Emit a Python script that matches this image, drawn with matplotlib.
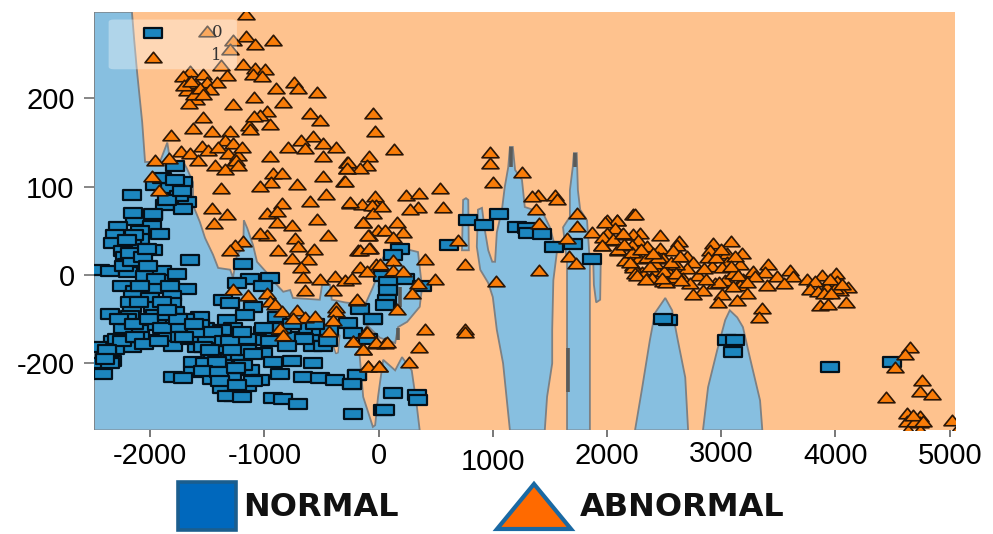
import matplotlib
matplotlib.use("Agg")
import matplotlib.pyplot as plt
from matplotlib.patches import Rectangle, Polygon, FancyBboxPatch
from matplotlib.path import Path
from matplotlib.transforms import ScaledTranslation

# ---- data ----
x_ticks = [-2000, -1000, 0, 1000, 2000, 3000, 4000, 5000]
x_tick_labels = ['-2000', '-1000', '0', '1000', '2000', '3000', '4000', '5000']
y_ticks = [-100, 0, 100, 200]
y_tick_labels = ['-200', '0', '100', '200']   # the reference labels its fourth evenly spaced tick -200

region_main = [(-2492,298),(-2160,298),(-2140,266),(-2115,230),(-2070,173),(-2045,128),(-1915,128),(-1850,150),
 (-1825,128),(-1710,128),(-1680,121),(-1625,105),(-1625,79),(-1565,60),(-1520,42),(-1450,23),(-1405,8),(-1300,6),
 (-1275,-3),(-1240,23),(-1185,31),(-1180,62),(-1150,53),(-1100,34),(-1065,15),(-975,2),(-950,-3),(-835,-19),
 (-775,-17),(-750,-26),(-515,-28),(-495,-11),(-425,-11),(-410,-28),(-295,-31),(-120,-34),(-50,-14),(-15,-2),
 (40,20),(160,32),(345,26),(380,-14),(360,-36),(250,-53),(170,-59),(145,-77),(10,-71),(-100,-57),(-180,-74),
 (-165,-93),(-135,-138),(-50,-172),(-30,-170),(-5,-138),(40,-96),(145,-108),(205,-93),(290,-108),(335,-149),
 (360,-176),(-2492,-176)]
region_spire = [(1150,-176),(1090,-100),(1035,-62),(1000,-25),(960,-9),(890,6),(860,32),(870,74),(905,76),(930,51),
 (960,28),(995,15),(1020,15),(1035,48),(1080,74),(1105,100),(1135,122),(1150,145),(1175,145),(1195,119),(1255,108),
 (1280,77),(1440,70),(1500,54),(1560,25),(1530,-6),(1520,-62),(1520,-100),(1475,-138),(1455,-176)]
region_strip = [(1650,-176),(1650,14),(1615,54),(1675,66),(1675,96),(1700,122),(1710,138),(1735,138),(1745,96),
 (1765,74),(1825,62),(1850,14),(1850,-176)]
region_side = [(1880,14),(1945,15),(1940,-28),(1905,-31),(1885,-11)]
region_thin = [(730,28),(740,85),(765,87),(785,85),(790,28)]
region_d = [(2245,-176),(2305,-130),(2375,-74),(2420,-43),(2510,-26),(2570,-40),(2620,-74),(2685,-116),(2710,-176)]
region_e = [(2840,-176),(2885,-127),(2965,-85),(3035,-51),(3075,-40),(3140,-48),(3190,-59),(3250,-93),(3340,-142),(3360,-176)]
notch_abnormal = [(-425,-68),(-340,-68),(-355,-88),(-375,-89)]
dark_bars = [(1660,-133,-83),(170,-74,-60),(187,-36,-14),(1160,122,145),(1722,122,138)]

normal_points = [(-2133,62),(-1972,68),(-2279,54),(-1987,56),(-2089,50),(-1914,46),(-2308,45),(-2089,41),(-2323,36),
 (-2162,36),(-1972,28),(-2235,27),(-2220,20),(-1651,17),(-2206,12),(-1184,13),(-2439,6),(-2352,5),(-2191,3),(-2045,-1),
 (-1899,5),(-1870,-6),(-1768,1),(-1126,-4),(-951,-3),(-1243,-9),(-2250,-12),(-2133,-18),(-1949,-15),(-1680,-16),
 (-1009,-13),(-2147,-24),(-1812,-24),(-2002,-26),(-1359,-28),(-1301,-32),(-1097,-36),(-1812,-32),(-1972,-36),(-2162,-36),
 (-2352,-44),(-2177,-46),(-1958,-45),(-1783,-42),(-1170,-45),(-1564,-47),(-1330,-51),(-892,-47),(-1841,-54),(-1695,-50),
 (-163,-38),(-46,-50),(-265,-54),(-951,-62),(-2220,-69),(-2089,-62),(-1856,-69),(-1680,-63),(-1520,-60),(-1272,-60),
 (-1374,-62),(-1009,-64),(-746,-70),(-586,-70),(-221,-66),(-2323,-75),(-2162,-81),(-2002,-74),(-1797,-80),(-1593,-81),
 (-1418,-74),(-1243,-79),(-1067,-74),(-571,-80),(-483,-80),(-2439,-81),(-2308,-84),(-1447,-91),(-1301,-91),(-1009,-88),
 (-1622,-98),(-2337,-97),(-2425,-100),(-921,-98),(-761,-97),(-571,-100),(-1126,-107),(-1316,-106),(-1622,-110),(-2410,-112),
 (-1797,-116),(-1462,-118),(-1710,-117),(-863,-112),(-659,-116),(-513,-117),(-381,-119),(-192,-113),(-235,-123),(-1038,-119),
 (-1374,-128),(-1155,-126),(-1272,-137),(-921,-139),(-834,-140),(-703,-146),(-221,-157),(42,-153),
 (-1564,-57),(-1651,-72),(-1505,-72),(-1359,-83),(-1213,-91),(-1155,-72),(-1359,-102),(-1184,-102),(-2235,-60),(-2293,-72),
 (-2089,-70),(-1943,-57),(-1768,-60),(-1520,-100),(-1418,-98),(-1535,-81),(-2381,-89),(-1286,-117),(-1535,-109),
 (-1785,123),(-1710,105),(-1955,102),(-1825,99),(-2160,91),(-1680,83),(-1870,79),(-1710,75),(-2150,70),(-1975,69),
 (780,62),(923,57),(1057,69),(620,34),(1209,54),(1297,53),(1311,47),(1434,46),(1539,32),(1705,35),(1866,18),(187,30),(129,23),
 (42,-1),(231,-4),(85,-8),(85,-17),(377,-13),(71,-28),(56,-34),(-52,-50),(-90,-72),(-192,-113),(-236,-123),(129,-134),(333,-136),
 (348,-142),(56,-153),(2537,-51),(2494,-50),(3048,-74),(3121,-74),(3107,-87),(3953,-104),(4493,-99),
 (-2250,-75),(-2380,-85),(-2350,-100),(-2400,-95),(-2130,-70),(-2050,-78),(-1920,-75),(-1740,-70),(-1600,-65),(-1450,-65),
 (-1350,-75),(-1300,-75),(-1200,-65),(-1150,-85),(-1100,-90),(-1480,-85),(-1400,-110),(-1250,-105),(-1280,-85),(-1390,-120),
 (-1100,-120),(-1240,-125),(-1330,-137),(-1200,-138),(-2200,-50),(-2270,-50),(-2140,-55),(-2010,-50),(-1900,-60),(-1850,-45),
 (-1760,-50),(-1700,-70),(-1620,-55),(-2230,10),(-2160,16),(-2180,25),(-2140,45),(-2200,40),(-2060,20),(-2030,30),(-2020,10),
 (-1950,-5),(-1830,-12),(-2090,-12),(-2180,-30),(-2100,-30),(-1900,-30),(-1850,-40),(-1000,-60),(-950,-75),(-850,-60),(-700,-55),
 (-620,-60),(-500,-62),(-650,-72),(-440,-75),(-430,-62),(-560,-55),(-800,-80),(-760,-55),(-1900,110),(-1750,90),(-1850,85),
 (-1780,108),(-1720,95)]

abnormal_points = [(-1164,296),(-1505,276),(-1164,271),(-1272,266),(-927,266),(-1082,262),(-1301,256),(-1380,238),
 (-1190,239),(-1082,234),(-995,233),(-1651,231),(-1710,225),(-1535,228),(-1324,227),(-1097,228),(-1024,225),(-1593,215),
 (-1666,217),(-1505,219),(-1412,218),(-1680,210),(-1476,211),(-898,212),(-741,219),(-703,212),(-542,207),(-1599,199),(-1660,195),
 (-1088,202),(-1278,194),(-840,196),(-980,186),(-1038,181),(-1540,179),(-600,184),(-52,184),(-513,176),(-1135,170),(-951,171),
 (-1628,166),(-1462,163),(-1301,163),(-1818,159),(-31,163),(-571,157),(-679,153),(-1345,153),(-1272,149),(-1549,146),(-790,145),
 (-644,144),(-490,149),(-373,145),(-1491,142),(-1403,145),(-1733,140),(-1651,138),(-1316,138),(-1228,136),(-1832,133),(-1958,130),
 (-1578,130),(-951,135),(-490,135),(-81,135),(-279,128),(-1432,124),(-1286,126),(-1345,120),(-279,121),(-104,125),(-163,121),
 (-922,116),(-849,116),(-490,112),(-303,107),(-1981,112),(-942,105),(-1038,101),(-711,103),(-1383,98),(-1923,96),(-460,92),(-31,90),
 (-849,81),(-600,84),(-250,82),(-148,80),(-23,79),(-60,79),(-1462,76),(-980,70),(-892,72),(-1324,69),(-52,70),(-542,63),(-892,60),
 (-133,60),(-1441,59),(-761,57),(-2,51),(-980,45),(-1038,47),(-81,45),(-440,45),(-732,42),(-1190,39),(-1257,34),(-1301,28),(-878,28),
 (-703,33),(-565,30),(-75,31),(-177,28),(-761,19),(-615,18),(-682,9),(-163,9),(-23,12),(-659,-2),(-513,-5),(-381,-1),(-294,-6),
 (-235,-3),(-104,4),(-1272,-16),(-644,-17),(-402,-17),(-1140,-23),(-980,-20),(-951,-29),(-907,-33),(-849,-41),(-717,-40),(-192,-28),
 (-373,-36),(-373,-41),(-644,-47),(-746,-49),(-556,-46),(-402,-51),(-863,-60),(-840,-68),(-431,-63),(-110,-65),(-221,-75),(-23,-77),
 (57,-77),(-133,-84),(-90,-103),(0,-103),
 (138,143),(-265,128),(-280,121),(-294,106),(976,139),(976,127),(999,105),(1253,117),(538,98),(240,91),(357,93),(-250,83),(1399,91),
 (1545,91),(1340,89),(1560,86),(27,78),(567,77),(348,77),(275,75),(1376,75),(1735,70),(2231,69),(-139,60),(164,60),(1997,62),(2085,62),
 (1408,59),(56,51),(217,49),(-90,45),(129,43),(1735,55),(698,40),(-163,28),(-81,31),(406,18),(129,17),(12,12),(1667,22),(757,12),
 (1729,14),(1408,6),(129,6),(217,4),(494,-5),(1028,-7),(348,-9),(290,-20),(-192,-27),(158,-38),(406,-61),(757,-61),(757,-64),(-104,-64),
 (-221,-75),(-23,-76),(71,-76),(-134,-84),(354,-82),(269,-98),(-90,-103),(2,-103),
 (2245,69),(2085,62),(1983,60),(2070,53),(2289,47),(2129,46),(2231,46),(2464,45),(1997,47),(2056,40),(2275,40),(2631,38),(1954,34),
 (2216,34),(2348,33),(2610,34),(2464,31),(2926,36),(3086,38),(2100,28),(2902,28),(2575,28),(3180,25),(3048,25),(2231,24),(2283,19),
 (2494,19),(2698,21),(2888,20),(2158,17),(2750,15),(3165,13),(3048,15),(2231,11),(2917,10),(3413,13),(3603,6),(2435,6),(3004,9),(2546,3),
 (2304,3),(2698,8),(3282,5),(3384,3),(2800,0),(3194,-4),(3034,-6),(2669,-3),(2391,-3),(2552,-5),(3632,-1),(3749,-5),(3880,0),(4006,2),
 (3822,-7),(3486,-1),(2946,-9),(2727,-9),(3165,-11),(3399,-11),(3550,-9),(4011,-7),(2494,-7),(2844,-17),(3004,-21),(3223,-20),(3778,-16),
 (3924,-14),(4114,-14),(4041,-17),(3851,-18),(2756,-22),(3136,-28),(2975,-30),(3866,-34),(3939,-33),(4093,-31),(3361,-37),(3331,-48),
 (4654,-82),(4610,-89),(4522,-104),(4756,-119),(4741,-131),(4843,-135),(4441,-138),(4625,-156),(4741,-160),(4625,-165),(4741,-166),
 (5018,-164),(4639,-175),(4741,-175),(5062,-175),
 (1647,42),(1866,49),(1968,43),(2056,41),(1953,34),(2100,29),(2216,26),(2143,47),(2231,9),(2245,2),(2350,20),(2420,14),(2600,13),(2580,-2),
 (2850,8),(3100,2),(3300,-1),(3100,-12),
 (2150,35),(2200,15),(2300,30),(2380,10),(2260,0),(2340,-5),(2450,20),(2500,5),(2520,-8),(2600,2),(2650,-6),(2400,25),(2560,15),(2640,22),
 (2480,-3),(2950,20),(3000,30),(3120,22),(3090,10),(3150,0),(3230,-8),(2980,-8),(2870,-5),(4000,-15),(3950,-5),(4060,-10),(3900,-20),
 (3960,-20),(-1700,215),(-1640,220),(-1620,205),(-1560,212),(-1540,205),(-1090,180),(-1130,165),(-1200,145),(-1250,130),(-1230,125),
 (4700,-165),(4680,-158),(4770,-165)]

# the two marks that stay bright on top of the faded box in the top-left corner
inset_normal = [(-1975, 274)]
inset_abnormal = [(-1978, 247)]

# ---- styling ----
W, H = 993, 534
BG_ORANGE, BG_BLUE, EDGE = '#fec28e', '#87bfe0', '#7d8083'
SQ, TR = '#1c86bf', '#f97c08'
TICK_FONT = 'Liberation Sans'

fig = plt.figure(figsize=(W / 100, H / 100), dpi=100, facecolor='white')
ax = fig.add_axes([94 / W, 1 - 430 / H, (955 - 94) / W, (430 - 12) / H], facecolor=BG_ORANGE)
ax.set_xlim(-2492, 5047)
ax.set_ylim(-175.5, 297.8)
for s in ax.spines.values():
    s.set_visible(False)

for reg in (region_main, region_spire, region_strip, region_side, region_thin, region_d, region_e):
    ax.add_patch(Polygon(reg, closed=True, facecolor=BG_BLUE, edgecolor=EDGE, lw=1.3, zorder=1))
ax.add_patch(Polygon(notch_abnormal, closed=True, facecolor=BG_ORANGE, edgecolor=EDGE, lw=1.0, zorder=1.1))
for bx, b0, b1 in dark_bars:
    ax.vlines(bx, b0, b1, color='#5a5a58', lw=2.6, zorder=1.2)

rect_marker = Path([(-1, -.6), (1, -.6), (1, .6), (-1, .6), (-1, -.6)], closed=True)
tri_marker = Path([(-1, -.62), (0, .62), (1, -.62), (-1, -.62)], closed=True)
SQ_STYLE = dict(s=170, marker=rect_marker, c=SQ, edgecolors='#03101a', linewidths=1.6)
TR_STYLE = dict(s=150, marker=tri_marker, c=TR, edgecolors='#2b1606', linewidths=1.2)

nx, ny = zip(*normal_points)
ax.scatter(nx, ny, zorder=3, **SQ_STYLE)
tx, ty = zip(*abnormal_points)
ax.scatter(tx, ty, zorder=4, **TR_STYLE)

# faded inset legend of the original plot
ax.add_patch(FancyBboxPatch((0.019, 0.865), 0.145, 0.115, boxstyle='round,pad=0.002,rounding_size=0.006',
                            transform=ax.transAxes, facecolor='white', edgecolor='none', alpha=0.35, zorder=5))
ax.text(0.143, 0.952, '0', transform=ax.transAxes, family='DejaVu Serif', fontsize=12, color='#333333',
        ha='center', va='center', zorder=6)
ax.text(0.142, 0.897, '1', transform=ax.transAxes, family='DejaVu Serif', fontsize=12, color='#333333',
        ha='center', va='center', zorder=6)
ax.scatter(*zip(*inset_normal), zorder=7, **SQ_STYLE)
ax.scatter(*zip(*inset_abnormal), zorder=7, **TR_STYLE)

ax.set_xticks(x_ticks, labels=x_tick_labels)
ax.set_yticks(y_ticks, labels=y_tick_labels)
ax.tick_params(axis='x', length=5, width=1.4, color='#777777', pad=4)
ax.tick_params(axis='y', length=7, width=1.1, color='#666666', pad=7)
for lab in ax.get_xticklabels() + ax.get_yticklabels():
    lab.set_fontfamily(TICK_FONT)
    lab.set_fontsize(21)
x_label_shift = [0, 0, 1, -5, 1, 2, 1, 0]
for lab, dy in zip(ax.get_xticklabels(), x_label_shift):
    lab.set_transform(lab.get_transform() + ScaledTranslation(0, dy / 100, fig.dpi_scale_trans))

# hand-added legend under the chart
def fx(p): return p / W
def fy(p): return 1 - p / H
fig.add_artist(Rectangle((fx(178), fy(530)), 58 / W, 48 / H, transform=fig.transFigure,
                         facecolor='#0068bd', edgecolor='#1b5e8e', lw=2.6))
fig.add_artist(Polygon([(fx(497), fy(529)), (fx(534), fy(484)), (fx(571), fy(529))], closed=True,
                       transform=fig.transFigure, facecolor='#ff6a00', edgecolor='#1a69a3', lw=3))
fig.text(fx(243), fy(508), 'NORMAL', family='DejaVu Sans', weight='bold', fontsize=23, va='center', ha='left', color='#111111')
fig.text(fx(580), fy(508), 'ABNORMAL', family='DejaVu Sans', weight='bold', fontsize=23, va='center', ha='left', color='#111111')

fig.savefig('out.png', dpi=100)
